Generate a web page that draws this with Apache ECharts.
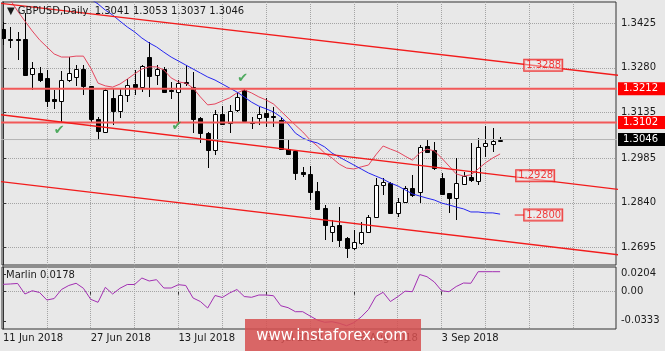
<!DOCTYPE html>
<html>
<head>
<meta charset="utf-8">
<script src="https://cdn.jsdelivr.net/npm/echarts@6/dist/echarts.min.js"></script>
<style>
html, body { margin: 0; padding: 0; background: #e8e8e8; }
#main { width: 665px; height: 351px; }
</style>
</head>
<body>
<div id="main"></div>
<script>
// GBPUSD daily bars, 11 Jun 2018 (bar 0) .. 13 Sep 2018 (bar 68)
var opens  = [1.3405,1.3375,1.3374,1.3373,1.3260,1.3264,1.3246,1.3177,1.3173,1.3240,
              1.3251,1.3276,1.3221,1.3112,1.3072,1.3182,1.3139,1.3191,1.3227,1.3216,
              1.3316,1.3256,1.3275,1.3208,1.3202,1.3233,1.3216,1.3117,1.3068,1.3012,
              1.3128,1.3099,1.3142,1.3206,1.3104,1.3115,1.3134,1.3123,1.3110,1.3014,
              1.3009,1.2941,1.2934,1.2878,1.2822,1.2746,1.2768,1.2724,1.2692,1.2708,
              1.2744,1.2795,1.2898,1.2905,1.2808,1.2844,1.2887,1.2876,1.3025,1.3012,
              1.2920,1.2871,1.2855,1.2901,1.2925,1.2912,1.3025,1.3031,1.3041];
var highs  = [1.3429,1.3414,1.3398,1.3459,1.3300,1.3283,1.3273,1.3208,1.3270,1.3316,
              1.3289,1.3289,1.3222,1.3121,1.3213,1.3213,1.3210,1.3243,1.3273,1.3289,
              1.3365,1.3289,1.3283,1.3235,1.3240,1.3289,1.3267,1.3119,1.3072,1.3142,
              1.3155,1.3159,1.3197,1.3213,1.3121,1.3153,1.3180,1.3153,1.3121,1.3045,
              1.3012,1.2958,1.2960,1.2909,1.2833,1.2784,1.2827,1.2729,1.2751,1.2778,
              1.2800,1.2920,1.2920,1.2909,1.2855,1.2895,1.2930,1.3028,1.3045,1.3039,
              1.2936,1.2873,1.2985,1.2941,1.3034,1.3052,1.3090,1.3083,1.3053];
var lows   = [1.3354,1.3344,1.3305,1.3254,1.3208,1.3235,1.3153,1.3146,1.3101,1.3235,
              1.3221,1.3191,1.3104,1.3045,1.3066,1.3093,1.3115,1.3169,1.3191,1.3202,
              1.3186,1.3224,1.3197,1.3177,1.3099,1.3221,1.3066,1.3035,1.2952,1.2996,
              1.3094,1.3068,1.3137,1.3100,1.3079,1.3094,1.3088,1.3088,1.3012,1.2996,
              1.2914,1.2925,1.2849,1.2819,1.2719,1.2713,1.2697,1.2659,1.2686,1.2702,
              1.2740,1.2793,1.2865,1.2803,1.2795,1.2838,1.2858,1.2840,1.3003,1.2947,
              1.2865,1.2806,1.2784,1.2898,1.2909,1.2898,1.2990,1.3006,1.3037];
var closes = [1.3376,1.3371,1.3371,1.3256,1.3278,1.3240,1.3173,1.3172,1.3240,1.3264,
              1.3276,1.3221,1.3112,1.3075,1.3207,1.3139,1.3191,1.3224,1.3218,1.3286,
              1.3253,1.3275,1.3202,1.3206,1.3231,1.3229,1.3112,1.3066,1.3012,1.3128,
              1.3097,1.3139,1.3186,1.3105,1.3103,1.3129,1.3121,1.3118,1.3014,1.2999,
              1.2938,1.2934,1.2876,1.2820,1.2767,1.2765,1.2719,1.2692,1.2713,1.2746,
              1.2795,1.2898,1.2909,1.2808,1.2844,1.2887,1.2865,1.3023,1.3006,1.2952,
              1.2868,1.2855,1.2903,1.2927,1.2914,1.3023,1.3034,1.3041,1.3046];

// red (fast) and blue (slow) moving averages
var maFast = [1.3527,1.3501,1.3465,1.3432,1.3400,1.3371,1.3348,1.3325,1.3315,1.3315,
              1.3318,1.3318,1.3279,1.3230,1.3221,1.3217,1.3227,1.3243,1.3260,1.3276,
              1.3283,1.3283,1.3273,1.3247,1.3234,1.3230,1.3214,1.3185,1.3159,1.3162,
              1.3172,1.3182,1.3198,1.3208,1.3198,1.3185,1.3175,1.3162,1.3139,1.3116,
              1.3093,1.3071,1.3045,1.3025,1.3002,1.2986,1.2966,1.2953,1.2950,1.2957,
              1.2963,1.2996,1.3025,1.3015,1.3006,1.2992,1.2979,1.3002,1.3015,1.3009,
              1.2986,1.2960,1.2934,1.2927,1.2931,1.2950,1.2970,1.2986,1.2999];
var maSlow = [null,null,null,null,null,null,null,null,null,null,
              1.3540,1.3520,1.3504,1.3488,1.3468,1.3452,1.3432,1.3413,1.3397,1.3377,
              1.3361,1.3348,1.3331,1.3315,1.3302,1.3289,1.3276,1.3263,1.3250,1.3240,
              1.3227,1.3214,1.3201,1.3185,1.3168,1.3155,1.3146,1.3136,1.3120,1.3097,
              1.3067,1.3051,1.3041,1.3035,1.3022,1.3002,1.2989,1.2976,1.2963,1.2950,
              1.2937,1.2927,1.2917,1.2904,1.2895,1.2882,1.2869,1.2862,1.2855,1.2849,
              1.2839,1.2833,1.2826,1.2820,1.2810,1.2810,1.2807,1.2807,1.2803];
var marlin = [0.0084,0.0088,0.0094,-0.0026,0.0011,-0.0009,-0.0095,-0.0078,0.0025,0.0071,
              0.0096,0.0039,-0.0087,-0.0121,0.0050,-0.0026,0.0039,0.0082,0.0082,0.0156,
              0.0122,0.0137,0.0042,0.0042,0.0080,0.0071,-0.0072,-0.0112,-0.0186,-0.0043,
              -0.0066,-0.0015,0.0025,-0.0055,-0.0064,-0.0038,-0.0038,-0.0046,-0.0160,-0.0182,
              -0.0228,-0.0228,-0.0277,-0.0323,-0.0349,-0.0342,-0.0360,-0.0388,-0.0353,-0.0288,
              -0.0203,-0.0055,-0.0007,-0.0112,-0.0057,0.0006,0.0000,0.0196,0.0171,0.0111,
              0.0011,0.0000,0.0059,0.0099,0.0096,0.0228,0.0228,0.0228,0.0228];

var priceTicks = [1.3425, 1.3280, 1.3135, 1.2985, 1.2840, 1.2695];
var marlinTicks = [0.0204, 0, -0.0333];
var marlinGrid = [0];
var dateIdx = [0, 12, 24, 36, 48, 60];
var dateText = ['11 Jun 2018', '27 Jun 2018', '13 Jul 2018', '31 Jul 2018', '16 Aug 2018', '3 Sep 2018'];
var gridCols = [6, 12, 18, 24, 30, 36, 42, 48, 54, 60, 66, 72, 78];

// channel lines: price at bar -1 and bar 85
var channelFrom = [1.3492, 1.3129, 1.2911];
var channelTo = [1.3253, 1.2881, 1.2668];
var levels = [1.3212, 1.3102];
var lastPrice = 1.3046;
var boxLevels = [1.3288, 1.2928, 1.2800];
var boxBars = [73.9, 72.8, 73.9];
var checkBars = [7.7, 23.8, 32.8];
var checkPrices = [1.3074, 1.3087, 1.3243];

var FONT = 'DejaVu Sans';
var X_MIN = -0.1368, X_MAX = 83.858;
var M_MIN = -0.04253, M_MAX = 0.02816;
var DOTS = { show: true, lineStyle: { color: '#a4a4a4', type: 'dotted', width: 1 } };

function pairs(arr) {
    var out = [];
    for (var i = 0; i < arr.length; i++) {
        if (arr[i] != null) out.push([i, arr[i]]);
    }
    return out;
}

var candleData = opens.map(function (o, i) { return [i, o, closes[i], lows[i], highs[i]]; });

function renderCandle(params, api) {
    var i = api.value(0);
    var o = api.value(1), c = api.value(2), l = api.value(3), h = api.value(4);
    var po = api.coord([i, o]), pc = api.coord([i, c]);
    var x = Math.round(po[0]) + 0.5;
    var yh = Math.round(api.coord([i, h])[1]);
    var yl = Math.round(api.coord([i, l])[1]);
    var top = Math.round(Math.min(po[1], pc[1])) + 0.5;
    var bot = Math.round(Math.max(po[1], pc[1])) + 0.5;
    if (bot - top < 1) bot = top + 1;
    return {
        type: 'group',
        children: [
            { type: 'line', shape: { x1: x, y1: yh, x2: x, y2: yl }, style: { stroke: '#000', lineWidth: 1 } },
            { type: 'rect', shape: { x: x - 2, y: top, width: 4, height: bot - top },
              style: { fill: c >= o ? '#fff' : '#000', stroke: '#000', lineWidth: 1 } }
        ]
    };
}

// hidden axis that only draws dotted grid lines at the given values
function gridAxis(gridIndex, min, max, values, position) {
    return {
        type: 'value', gridIndex: gridIndex, min: min, max: max, position: position,
        axisLine: { show: false }, axisLabel: { show: false },
        axisTick: { show: false, customValues: values },
        splitLine: DOTS
    };
}

// horizontal level with a coloured price tag on the right axis
function levelSeries(value, bg, lineColor, width) {
    return {
        type: 'line', xAxisIndex: 0, yAxisIndex: 0, z: 4, silent: true, symbol: 'none',
        data: [[-1, value], [85, value]],
        lineStyle: { color: lineColor, width: width },
        endLabel: {
            show: true, distance: 1,
            formatter: function () { return value.toFixed(4); },
            color: '#fff', backgroundColor: bg,
            padding: [2, 10, 1, 5], fontSize: 10, fontFamily: FONT
        }
    };
}

var channelSeries = channelFrom.map(function (p, k) {
    return {
        type: 'line', xAxisIndex: 0, yAxisIndex: 0, z: 4,
        data: [[-1, p], [85, channelTo[k]]],
        symbol: 'none', silent: true,
        lineStyle: { color: '#f21c1c', width: 1.4 }
    };
});

var chart = echarts.init(document.getElementById('main'));

var option = {
    backgroundColor: '#e8e8e8',
    animation: false,
    title: [
        { text: '\u25BC GBPUSD,Daily  1.3041 1.3053 1.3037 1.3046', left: 7, top: 6, padding: 0,
          textStyle: { fontSize: 10, fontWeight: 'normal', color: '#1a1a1a', fontFamily: FONT } },
        { text: 'Marlin 0.0178', left: 6, top: 270, padding: 0,
          textStyle: { fontSize: 10, fontWeight: 'normal', color: '#1a1a1a', fontFamily: FONT } }
    ],
    grid: [
        { left: 2, right: 49, top: 2, height: 263, show: true, borderColor: '#333', borderWidth: 1 },
        { left: 2, right: 49, top: 267, height: 62, show: true, borderColor: '#333', borderWidth: 1 }
    ],
    xAxis: [
        gridAxis(0, X_MIN, X_MAX, gridCols, 'bottom'),
        { type: 'value', gridIndex: 1, min: X_MIN, max: X_MAX, position: 'bottom',
          axisLine: { show: false },
          axisTick: { show: true, customValues: dateIdx, length: 3, lineStyle: { color: '#333' } },
          axisLabel: { customValues: dateIdx, align: 'left', margin: 4, fontSize: 10, color: '#1a1a1a', fontFamily: FONT,
                       formatter: function (v) { var k = dateIdx.indexOf(Math.round(v)); return k >= 0 ? dateText[k] : ''; } },
          splitLine: { show: false } },
        gridAxis(1, X_MIN, X_MAX, gridCols, 'top')
    ],
    yAxis: [
        { type: 'value', gridIndex: 0, position: 'right', min: 1.26371, max: 1.34944,
          axisLine: { show: true, lineStyle: { color: '#333' } },
          axisTick: { show: true, customValues: priceTicks, length: 3, lineStyle: { color: '#333' } },
          axisLabel: { customValues: priceTicks, margin: 5, fontSize: 10, color: '#1a1a1a', fontFamily: FONT,
                       formatter: function (v) { return v.toFixed(4); } },
          splitLine: DOTS },
        { type: 'value', gridIndex: 1, position: 'right', min: M_MIN, max: M_MAX,
          axisLine: { show: true, lineStyle: { color: '#333' } },
          axisTick: { show: true, customValues: marlinTicks, length: 3, lineStyle: { color: '#333' } },
          axisLabel: { customValues: marlinTicks, margin: 5, fontSize: 10, color: '#1a1a1a', fontFamily: FONT,
                       formatter: function (v) { return v === 0 ? '0.00' : v.toFixed(4); } },
          splitLine: { show: false } },
        gridAxis(1, M_MIN, M_MAX, marlinGrid, 'left')
    ],
    series: [
        {
            type: 'custom', name: 'GBPUSD', xAxisIndex: 0, yAxisIndex: 0, z: 3, clip: true,
            renderItem: renderCandle,
            encode: { x: 0, y: [1, 2, 3, 4] },
            data: candleData
        },
        { type: 'line', name: 'MA fast', xAxisIndex: 0, yAxisIndex: 0, z: 4, data: pairs(maFast),
          symbol: 'none', silent: true, lineStyle: { color: '#e4465e', width: 1 } },
        { type: 'line', name: 'MA slow', xAxisIndex: 0, yAxisIndex: 0, z: 4, data: pairs(maSlow),
          symbol: 'none', silent: true, lineStyle: { color: '#2626f0', width: 1 } },
        levelSeries(lastPrice, '#000000', '#b4b4b4', 1),
        levelSeries(levels[0], '#ff0000', '#f25858', 2),
        levelSeries(levels[1], '#ff0000', '#f25858', 2)
    ].concat(channelSeries).concat([
        { type: 'line', xAxisIndex: 0, yAxisIndex: 0, z: 4, data: [[70.0, boxLevels[2]], [71.3, boxLevels[2]]],
          symbol: 'none', silent: true, lineStyle: { color: '#f21c1c', width: 1 } },
        { type: 'scatter', xAxisIndex: 0, yAxisIndex: 0, z: 6, symbolSize: 1, silent: true,
          itemStyle: { color: 'transparent' },
          data: boxLevels.map(function (p, k) { return [boxBars[k], p]; }),
          label: { show: true, position: 'inside', color: '#f01010', fontSize: 10, fontFamily: FONT,
                   backgroundColor: 'rgba(240,236,236,0.55)', borderColor: '#f01010', borderWidth: 1,
                   padding: [1, 1, 0, 2],
                   formatter: function (p) { return p.value[1].toFixed(4); } } },
        { type: 'scatter', xAxisIndex: 0, yAxisIndex: 0, z: 6, symbolSize: 1, silent: true,
          itemStyle: { color: 'transparent' },
          data: checkBars.map(function (b, k) { return [b, checkPrices[k]]; }),
          label: { show: true, position: 'inside', color: '#279a3c', fontSize: 13, fontFamily: FONT,
                   formatter: '\u2714' } },
        { type: 'line', name: 'Marlin', xAxisIndex: 1, yAxisIndex: 1, z: 4, data: pairs(marlin),
          symbol: 'none', silent: true, lineStyle: { color: '#a22fb2', width: 1 } }
    ]),
    graphic: [
        { type: 'rect', z: 100, shape: { x: 245, y: 319, width: 176, height: 32 },
          style: { fill: 'rgba(214,80,80,0.86)' } },
        { type: 'text', z: 101, x: 332, y: 336,
          style: { text: 'www.instaforex.com', fill: '#fff', fontSize: 15, fontFamily: FONT,
                   align: 'center', verticalAlign: 'middle' } }
    ]
};

chart.setOption(option);
</script>
</body>
</html>
